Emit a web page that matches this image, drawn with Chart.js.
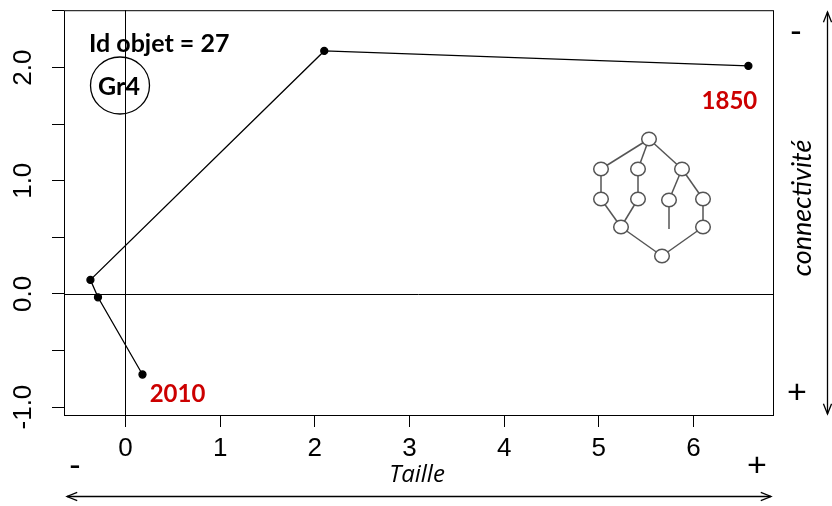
<!DOCTYPE html>
<html>
<head>
<meta charset="utf-8">
<script src="https://cdn.jsdelivr.net/npm/chart.js@4.4.1/dist/chart.umd.min.js"></script>
<style>
  html, body { margin: 0; padding: 0; background: #fff; }
  #wrap { width: 832px; height: 506px; }
</style>
</head>
<body>
<div id="wrap"><canvas id="chart" width="832" height="506"></canvas></div>
<script>
// Trajectoire de l'objet 27 (de 1850 à 2010)
const taille = [6.58, 2.10, -0.37, -0.29, 0.18];
const connectivite = [2.015, 2.147, 0.124, -0.03, -0.712];
const annees = ['1850', '', '', '', '2010'];

// Graduations
const xTickLabels = [0, 1, 2, 3, 4, 5, 6];
const yTickLabels = [-1, 0, 1, 2];

const idObjet = 'Id objet = 27';
const groupe = 'Gr4';

const points = taille.map((x, i) => ({ x: x, y: connectivite[i] }));

// Petit schéma de réseau (décoratif), positions en pixels
const noeuds = [
  [649, 139], [601, 169], [601, 199], [638, 169], [638, 199],
  [682, 169], [669, 200], [703, 199], [621, 227], [703, 227], [662, 256]
];
const aretes = [[0, 1], [0, 3], [0, 5], [1, 2], [3, 4], [2, 8], [4, 8], [8, 10], [5, 6], [5, 7], [7, 9], [9, 10]];

function fleche(ctx, x1, y1, x2, y2) {
  const a = Math.atan2(y2 - y1, x2 - x1);
  const h = 11;
  ctx.beginPath();
  ctx.moveTo(x1, y1);
  ctx.lineTo(x2, y2);
  ctx.stroke();
  [[x2, y2, a], [x1, y1, a + Math.PI]].forEach(([px, py, ang]) => {
    ctx.beginPath();
    ctx.moveTo(px - h * Math.cos(ang - 0.38), py - h * Math.sin(ang - 0.38));
    ctx.lineTo(px, py);
    ctx.lineTo(px - h * Math.cos(ang + 0.38), py - h * Math.sin(ang + 0.38));
    ctx.stroke();
  });
}

const decor = {
  id: 'decor',
  beforeDatasetsDraw(chart) {
    const ctx = chart.ctx;
    const a = chart.chartArea;
    const xs = chart.scales.x, ys = chart.scales.y;
    ctx.save();
    ctx.strokeStyle = '#000';
    ctx.lineWidth = 1;
    // cadre
    ctx.strokeRect(a.left + 0.5, a.top + 0.5, a.right - a.left, a.bottom - a.top);
    // axes x = 0 et y = 0
    const x0 = Math.round(xs.getPixelForValue(0)) + 0.5;
    const y0 = Math.round(ys.getPixelForValue(0)) + 0.5;
    ctx.beginPath();
    ctx.moveTo(x0, a.top); ctx.lineTo(x0, a.bottom);
    ctx.moveTo(a.left, y0); ctx.lineTo(a.right, y0);
    ctx.stroke();

    // schéma du réseau
    ctx.strokeStyle = '#555';
    ctx.lineWidth = 1.5;
    aretes.forEach(([i, j]) => {
      ctx.beginPath();
      ctx.moveTo(noeuds[i][0], noeuds[i][1]);
      ctx.lineTo(noeuds[j][0], noeuds[j][1]);
      ctx.stroke();
    });
    ctx.beginPath();
    ctx.moveTo(669, 200); ctx.lineTo(669, 229);
    ctx.stroke();
    noeuds.forEach(([x, y]) => {
      ctx.beginPath();
      ctx.ellipse(x, y, 7.3, 6.8, 0, 0, Math.PI * 2);
      ctx.fillStyle = '#fff';
      ctx.fill();
      ctx.stroke();
    });
    ctx.restore();
  },
  afterDraw(chart) {
    const ctx = chart.ctx;
    const xs = chart.scales.x, ys = chart.scales.y;
    ctx.save();
    ctx.fillStyle = '#000';
    ctx.strokeStyle = '#000';
    ctx.lineWidth = 1.3;

    // étiquettes de l'axe y, tournées
    ctx.font = '26px "Liberation Sans", Arial, sans-serif';
    ctx.textAlign = 'center';
    ctx.textBaseline = 'middle';
    yTickLabels.forEach(v => {
      ctx.save();
      ctx.translate(24, ys.getPixelForValue(v));
      ctx.rotate(-Math.PI / 2);
      ctx.fillText(v.toFixed(1), 0, 0);
      ctx.restore();
    });

    // titre et groupe
    ctx.font = 'bold 25px Lato, "Open Sans", sans-serif';
    ctx.textAlign = 'left';
    ctx.textBaseline = 'alphabetic';
    ctx.fillText(idObjet, 89, 52);
    ctx.beginPath();
    ctx.ellipse(120, 85.5, 29.5, 28.5, 0, 0, Math.PI * 2);
    ctx.stroke();
    ctx.textAlign = 'center';
    ctx.textBaseline = 'middle';
    ctx.fillText(groupe, 119, 87);

    // années
    ctx.font = 'bold 24px Lato, "Open Sans", sans-serif';
    ctx.fillStyle = '#cc0000';
    const pDebut = [xs.getPixelForValue(taille[0]), ys.getPixelForValue(connectivite[0])];
    const n = taille.length - 1;
    const pFin = [xs.getPixelForValue(taille[n]), ys.getPixelForValue(connectivite[n])];
    ctx.fillText(annees[0], pDebut[0] - 19, pDebut[1] + 35);
    ctx.fillText(annees[n], pFin[0] + 35, pFin[1] + 20);

    // signes et flèches
    ctx.fillStyle = '#000';
    ctx.font = '34px "Liberation Sans", Arial, sans-serif';
    ctx.fillText('-', 75, 467);
    ctx.fillText('+', 757, 467);
    ctx.fillText('-', 796, 33);
    ctx.fillText('+', 797, 394);
    fleche(ctx, 67, 496.5, 771, 496.5);
    fleche(ctx, 827.5, 12, 827.5, 414);

    ctx.font = 'italic 24px "Open Sans", sans-serif';
    ctx.fillText('Taille', 417, 475);
    ctx.save();
    ctx.translate(802, 208);
    ctx.rotate(-Math.PI / 2);
    ctx.font = 'italic 27px Lato, "Open Sans", sans-serif';
    ctx.fillText('connectivité', 0, 0);
    ctx.restore();
    ctx.restore();
  }
};

new Chart(document.getElementById('chart'), {
  type: 'scatter',
  data: {
    datasets: [{
      data: points,
      showLine: true,
      borderColor: '#000',
      borderWidth: 1.3,
      backgroundColor: '#000',
      pointRadius: 3.5,
      pointHoverRadius: 3.5,
      tension: 0
    }]
  },
  options: {
    responsive: false,
    animation: false,
    layout: { padding: { left: 0, top: 9, right: 59, bottom: 0 } },
    plugins: { legend: { display: false }, tooltip: { enabled: false } },
    scales: {
      x: {
        type: 'linear',
        min: -0.649,
        max: 6.84,
        afterFit: s => { s.height = 91; },
        border: { display: false },
        grid: { drawOnChartArea: false, drawTicks: true, tickLength: 12, color: '#000' },
        ticks: {
          stepSize: 1,
          includeBounds: false,
          color: '#000',
          padding: 6,
          maxRotation: 0,
          font: { family: '"Liberation Sans", Arial, sans-serif', size: 26 },
          callback: v => xTickLabels.includes(v) ? String(v) : ''
        }
      },
      y: {
        type: 'linear',
        min: -1.07,
        max: 2.507,
        afterFit: s => { s.width = 64; },
        border: { display: false },
        grid: { drawOnChartArea: false, drawTicks: true, tickLength: 12, color: '#000' },
        ticks: {
          stepSize: 0.5,
          includeBounds: false,
          color: '#000',
          callback: () => ''
        }
      }
    }
  },
  plugins: [decor]
});
</script>
</body>
</html>
